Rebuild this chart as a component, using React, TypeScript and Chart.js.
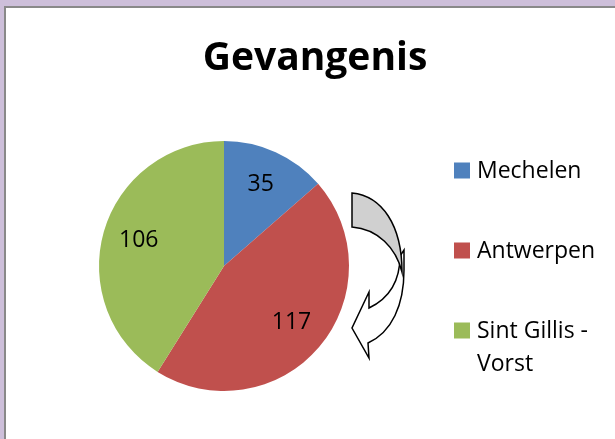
import React, { useEffect, useRef } from "react";
import { Chart, registerables } from "chart.js";

Chart.register(...registerables);

const categories = ["Mechelen", "Antwerpen", "Sint Gillis - Vorst"];
const values = [35, 117, 106];
const colors = ["#4F81BD", "#C0504D", "#9BBB59"];
const titleText = "Gevangenis";

const FONT = "'Open Sans', Lato, sans-serif";

const titlePlugin = {
  id: "chartTitle",
  afterDraw(chart: any) {
    const ctx = chart.ctx;
    ctx.save();
    ctx.fillStyle = "#000";
    ctx.font = `bold 39px ${FONT}`;
    ctx.textAlign = "center";
    ctx.textBaseline = "alphabetic";
    ctx.fillText(titleText, 309, 61.5);
    ctx.restore();
  },
};

const labelPlugin = {
  id: "sliceLabels",
  afterDatasetsDraw(chart: any) {
    const ctx = chart.ctx;
    const meta = chart.getDatasetMeta(0);
    ctx.save();
    ctx.fillStyle = "#000";
    ctx.font = `23px ${FONT}`;
    ctx.textAlign = "center";
    ctx.textBaseline = "middle";
    meta.data.forEach((arc: any, i: number) => {
      const p = arc.getProps(["x", "y", "startAngle", "endAngle", "outerRadius"], true);
      const mid = (p.startAngle + p.endAngle) / 2;
      const r = p.outerRadius * 0.71;
      ctx.fillText(String(chart.data.datasets[0].data[i]), p.x + Math.cos(mid) * r, p.y + Math.sin(mid) * r - 1);
    });
    ctx.restore();
  },
};

const legendPlugin = {
  id: "sideLegend",
  afterDraw(chart: any) {
    const ctx = chart.ctx;
    const labels: string[] = chart.data.labels;
    const bg: string[] = chart.data.datasets[0].backgroundColor;
    const boxX = 448;
    const y0 = 162.5;
    const step = 80;
    const box = 16;
    const textX = 471;
    const lineH = 32.5;
    const maxW = 135;
    ctx.save();
    ctx.font = `23px ${FONT}`;
    ctx.textBaseline = "middle";
    ctx.textAlign = "left";
    labels.forEach((lab, i) => {
      const cy = y0 + i * step;
      ctx.fillStyle = bg[i];
      ctx.fillRect(boxX, cy - box / 2, box, box);
      const words = lab.split(" ");
      const lines: string[] = [];
      let cur = "";
      words.forEach((w) => {
        const test = cur ? cur + " " + w : w;
        if (ctx.measureText(test).width > maxW && cur) {
          lines.push(cur);
          cur = w;
        } else cur = test;
      });
      if (cur) lines.push(cur);
      ctx.fillStyle = "#000";
      lines.forEach((ln, j) => ctx.fillText(ln, textX, cy + 1 + j * lineH));
    });
    ctx.restore();
  },
};

const arrowPlugin = {
  id: "curvedArrow",
  afterDraw(chart: any) {
    const ctx = chart.ctx;
    const ox = -6;
    const oy = -8;
    const P = (x: number, y: number): [number, number] => [x + ox, y + oy];
    ctx.save();
    ctx.lineWidth = 1.5;
    ctx.strokeStyle = "#000";
    ctx.beginPath();
    ctx.moveTo(...P(400, 256));
    ctx.bezierCurveTo(...P(400, 280), ...P(390, 298), ...P(369, 308));
    ctx.lineTo(...P(369, 292));
    ctx.lineTo(...P(352, 328));
    ctx.lineTo(...P(369, 358));
    ctx.lineTo(...P(368, 343));
    ctx.bezierCurveTo(...P(392, 332), ...P(404, 305), ...P(404, 270));
    ctx.lineTo(...P(404, 250));
    ctx.closePath();
    ctx.fillStyle = "#ffffff";
    ctx.fill();
    ctx.stroke();
    ctx.beginPath();
    ctx.moveTo(...P(352, 193));
    ctx.bezierCurveTo(...P(382, 196), ...P(402, 225), ...P(402, 272));
    ctx.bezierCurveTo(...P(396, 248), ...P(378, 229), ...P(352, 227));
    ctx.closePath();
    ctx.fillStyle = "#d0d0d0";
    ctx.fill();
    ctx.stroke();
    ctx.restore();
  },
};

export default function App() {
  const ref = useRef<HTMLCanvasElement>(null);
  useEffect(() => {
    if (!ref.current) return;
    const chart = new Chart(ref.current, {
      type: "pie",
      data: {
        labels: categories,
        datasets: [
          {
            data: values,
            backgroundColor: colors,
            borderWidth: 0,
          },
        ],
      },
      options: {
        responsive: false,
        animation: false,
        devicePixelRatio: 1,
        layout: { padding: { left: 93, right: 275, top: 133, bottom: 48 } },
        plugins: {
          legend: { display: false },
          tooltip: { enabled: false },
          title: { display: false },
        },
      },
      plugins: [labelPlugin, legendPlugin, arrowPlugin, titlePlugin],
    });
    return () => chart.destroy();
  }, []);
  return (
    <div
      style={{
        position: "fixed",
        left: 0,
        top: 0,
        width: 615,
        height: 439,
        background: "#CDBFDA",
        overflow: "hidden",
      }}
    >
      <div
        style={{
          position: "absolute",
          left: 4,
          top: 6,
          width: 640,
          height: 460,
          borderLeft: "2px solid #898989",
          borderTop: "2px solid #898989",
          background: "#fff",
        }}
      >
        <canvas ref={ref} width={618} height={431} style={{ display: "block" }} />
      </div>
    </div>
  );
}
